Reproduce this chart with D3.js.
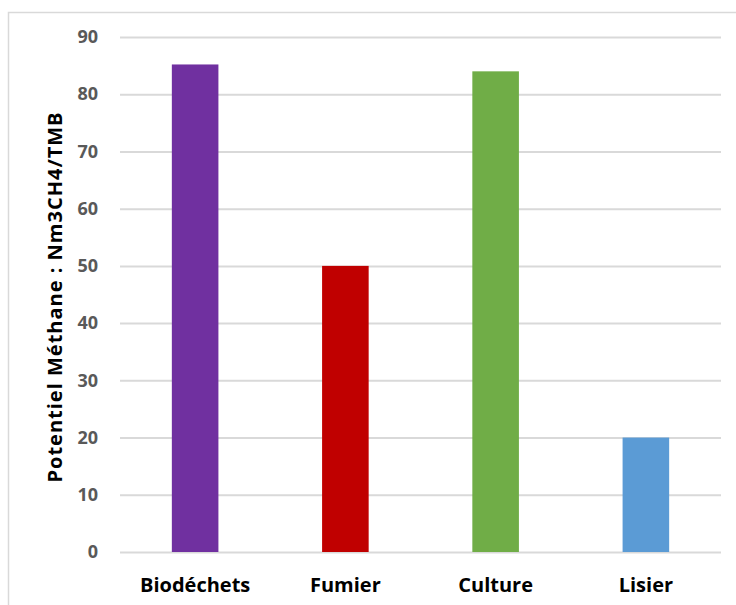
<!DOCTYPE html>
<html><head><meta charset="utf-8">
<script src="https://cdn.jsdelivr.net/npm/d3@7"></script>
<style>body{margin:0;background:#fff}svg{display:block}</style>
</head><body>
<svg id="c" width="736" height="605"></svg>
<script>
const categories = ["Biodéchets", "Fumier", "Culture", "Lisier"];
const values = [85.2, 50, 84, 20];
const colors = ["#7030a0", "#c00000", "#70ad47", "#5b9bd5"];
const yTicks = [0, 10, 20, 30, 40, 50, 60, 70, 80, 90];
const yTitle = "Potentiel Méthane : Nm3CH4/TMB";

const svg = d3.select("#c");
const font = "'Open Sans', sans-serif";
svg.append("rect").attr("x", 8.5).attr("y", 12.5).attr("width", 740).attr("height", 620)
  .attr("fill", "none").attr("stroke", "#d9d9d9").attr("stroke-width", 1.5);

const x = d3.scaleBand().domain(categories).range([120, 721]).paddingInner(0.69).paddingOuter(0.345);
const y = d3.scaleLinear().domain([0, 90]).range([552, 37]);

const g = svg.append("g");
const ya = g.append("g").attr("transform", "translate(120,0)")
  .call(d3.axisLeft(y).tickValues(yTicks).tickSize(-601).tickPadding(22));
ya.select(".domain").remove();
ya.selectAll(".tick line").attr("stroke", "#d9d9d9").attr("stroke-width", 2);
ya.selectAll(".tick text").attr("fill", "#595959").attr("font-family", font)
  .attr("font-weight", "bold").attr("font-size", 18);

g.selectAll("rect.bar").data(values).join("rect").attr("class", "bar")
  .attr("x", (d, i) => x(categories[i])).attr("width", x.bandwidth())
  .attr("y", d => y(d)).attr("height", d => y(0) - y(d))
  .attr("fill", (d, i) => colors[i]);

const xa = g.append("g").attr("transform", "translate(0,552)")
  .call(d3.axisBottom(x).tickSize(0).tickPadding(0));
xa.select(".domain").remove();
xa.selectAll(".tick text").attr("fill", "#000").attr("font-family", font)
  .attr("font-weight", "bold").attr("font-size", 20).attr("dy", null).attr("y", 40);

svg.append("text").attr("transform", "translate(62,297) rotate(-90)")
  .attr("text-anchor", "middle").attr("font-family", font).attr("font-weight", "bold")
  .attr("font-size", 20).attr("letter-spacing", 1).attr("fill", "#000").text(yTitle);
</script>
</body></html>
